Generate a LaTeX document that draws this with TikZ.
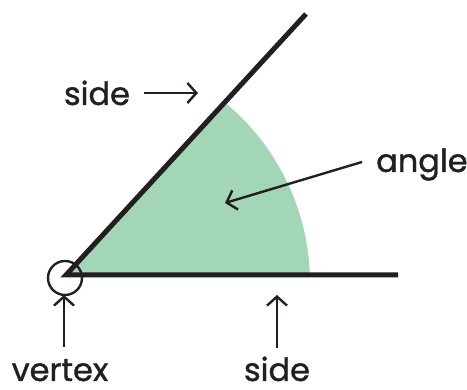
\documentclass[tikz,border=0pt]{standalone}
\usepackage{fontspec}
\setmainfont{Poppins}
\newfontfamily\labelfont{Poppins}[FakeBold=1.2]
\usetikzlibrary{arrows.meta}
\definecolor{ink}{HTML}{231F20}
\definecolor{leaf}{HTML}{A3D6B6}
\tikzset{
  lbl/.style={font=\labelfont\fontsize{32}{38}\selectfont, text=ink, inner sep=0pt, anchor=base},
  ray/.style={draw=ink, line width=5pt},
  pointer/.style={draw=ink, line width=2.4pt, -{Straight Barb[length=9pt,width=20pt,line width=2.4pt]}}
}
\begin{document}
\begin{tikzpicture}[x=1pt,y=1pt]
\useasboundingbox (0,0) rectangle (467,390);
% geometry
\coordinate (V) at (66,115);
\coordinate (H) at (398,115);
\coordinate (D) at (306,376);
% filled angle
\begin{scope}
  \clip (V) -- (H) -- (D) -- cycle;
  \fill[leaf] (76,107) -- ++(-4:234) arc[start angle=-4, end angle=55, radius=234] -- cycle;
  \fill[leaf] (V) -- (76,107) -- ++(55:234) -- cycle;
\end{scope}
% sides
\draw[ray, line cap=butt] (H) -- (V) -- (D);
% vertex circle
\node[draw=ink, line width=2.4pt, circle, minimum size=34pt, inner sep=0pt] (vc) at (65,112) {};
% labels
\node[lbl] (sideT) at (97,285) {side};
\node[lbl, anchor=base west] (angl) at (376,218) {angle};
\node[lbl] (vert) at (60,9) {vertex};
\node[lbl] (sideB) at (277,9) {side};
% pointer endpoints
\coordinate (a1) at (144,297); \coordinate (a2) at (198,297);
\coordinate (b1) at (362,228); \coordinate (b2) at (225,187);
\coordinate (c1) at (64,43);  \coordinate (c2) at (64,95);
\coordinate (d1) at (277,42); \coordinate (d2) at (277,95);
\draw[pointer] (a1) -- (a2);
\draw[pointer] (b1) -- (b2);
\draw[pointer] (c1) -- (c2);
\draw[pointer] (d1) -- (d2);
\end{tikzpicture}
\end{document}
